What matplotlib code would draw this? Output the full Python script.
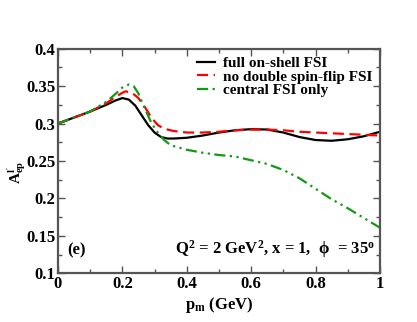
import numpy as np
import matplotlib
matplotlib.use('Agg')
from matplotlib import pyplot as plt
from matplotlib.ticker import MultipleLocator

plt.rcParams['font.family'] = 'Liberation Serif'
plt.rcParams['font.weight'] = 'bold'
plt.rcParams['mathtext.fontset'] = 'custom'
plt.rcParams['mathtext.rm'] = 'Liberation Serif:bold'
plt.rcParams['mathtext.it'] = 'Liberation Serif:bold'
plt.rcParams['mathtext.bf'] = 'Liberation Serif:bold'

# data
pm_full = [0.0, 0.05, 0.1, 0.15, 0.18, 0.2, 0.22, 0.24, 0.26, 0.28, 0.30, 0.32, 0.34, 0.36,
           0.4, 0.45, 0.5, 0.55, 0.6, 0.65, 0.7, 0.75, 0.8, 0.85, 0.9, 0.95, 1.0]
a_full = [0.300, 0.308, 0.316, 0.325, 0.331, 0.334, 0.332, 0.324, 0.311, 0.298, 0.288, 0.282,
          0.280, 0.280, 0.281, 0.284, 0.288, 0.291, 0.2925, 0.292, 0.288, 0.282, 0.278, 0.277,
          0.279, 0.283, 0.289]

pm_nodsf = [0.0, 0.05, 0.1, 0.15, 0.18, 0.2, 0.21, 0.23, 0.25, 0.27, 0.29, 0.31, 0.33, 0.36,
            0.4, 0.45, 0.5, 0.55, 0.6, 0.65, 0.7, 0.75, 0.8, 0.85, 0.9, 0.95, 1.0]
a_nodsf = [0.300, 0.308, 0.316, 0.327, 0.336, 0.341, 0.343, 0.341, 0.334, 0.322, 0.308, 0.298,
           0.293, 0.290, 0.288, 0.288, 0.289, 0.291, 0.292, 0.292, 0.291, 0.289, 0.288, 0.287,
           0.286, 0.285, 0.284]

pm_cent = [0.0, 0.05, 0.1, 0.15, 0.18, 0.2, 0.22, 0.235, 0.25, 0.27, 0.29, 0.31, 0.33, 0.35,
           0.4, 0.45, 0.5, 0.55, 0.6, 0.65, 0.7, 0.75, 0.8, 0.85, 0.9, 0.95, 1.0]
a_cent = [0.300, 0.308, 0.316, 0.329, 0.340, 0.348, 0.352, 0.350, 0.340, 0.320, 0.301, 0.288,
          0.278, 0.271, 0.265, 0.261, 0.258, 0.256, 0.251, 0.246, 0.238, 0.227, 0.213, 0.199,
          0.187, 0.174, 0.161]

xticks = [0, 0.2, 0.4, 0.6, 0.8, 1]
xlabels = ['0', '0.2', '0.4', '0.6', '0.8', '1']
yticks = [0.1, 0.15, 0.2, 0.25, 0.3, 0.35, 0.4]
ylabels = ['0.1', '0.15', '0.2', '0.25', '0.3', '0.35', '0.4']

fig = plt.figure(figsize=(4.17, 3.22), dpi=100)
ax = fig.add_axes([0.139, 0.151, 0.772, 0.698])

ax.plot(pm_full, a_full, color='black', lw=1.6, label='full on-shell FSI')
ax.plot(pm_nodsf, a_nodsf, color='red', lw=1.6, ls=(0, (5, 2.5)), label='no double spin-flip FSI')
ax.plot(pm_cent, a_cent, color='#119a11', lw=1.6, ls=(0, (5, 2, 1, 2, 1, 2)), label='central FSI only')

ax.set_xlim(0, 1)
ax.set_ylim(0.1, 0.4)
ax.set_xticks(xticks)
ax.set_xticklabels(xlabels)
ax.set_yticks(yticks)
ax.set_yticklabels(ylabels)
ax.xaxis.set_minor_locator(MultipleLocator(0.1))
ax.yaxis.set_minor_locator(MultipleLocator(0.025))
ax.tick_params(which='both', direction='in', top=True, right=True, labelsize=12, color='#555555')
ax.tick_params(which='major', length=5, width=1, pad=2)
ax.tick_params(which='minor', length=3, width=1)
for s in ax.spines.values():
    s.set_color('#555555')
    s.set_linewidth(1.6)

ax.set_xlabel(r'$\mathrm{p_m}$ (GeV)', fontsize=12, fontweight='bold', labelpad=2)
ax.set_ylabel(r"$\mathrm{A^{l'}_{ep}}$", fontsize=11)
ax.yaxis.set_label_coords(-0.092, 0.45)

ax.legend(loc='upper right', frameon=False, fontsize=11, handlelength=1.2,
          handletextpad=0.5, labelspacing=0.0, borderaxespad=0.1)

ax.text(0.03, 0.126, '(e)', fontsize=12, fontweight='bold')
ax.text(0.985, 0.126, r'$\mathrm{Q^2}$ = 2 GeV$^2$, x = 1,  ϕ  = 35$^o$',
        fontsize=12, fontweight='bold', ha='right')

fig.savefig('out.png', dpi=100)
